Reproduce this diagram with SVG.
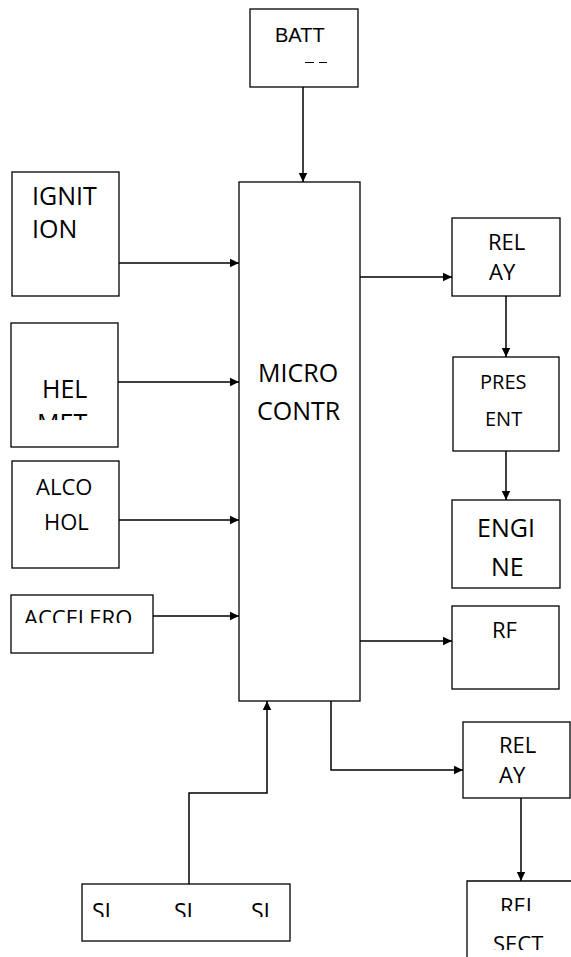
<svg xmlns="http://www.w3.org/2000/svg" width="571" height="957" viewBox="0 0 571 957">
<style>
.box{fill:#fff;stroke:#000;stroke-width:1.3}
.t{font-family:"Open Sans","Noto Sans",sans-serif;fill:#000}
.l{font-size:25px}
.s{font-size:22px}
.c{fill:none;stroke:#000;stroke-width:1.5}
</style>
<defs>
<marker id="ah" markerWidth="10" markerHeight="10" refX="9" refY="5" orient="auto" markerUnits="userSpaceOnUse">
<path d="M0,0.8 L9,5 L0,9.2 Z" fill="#000"/>
</marker>
<clipPath id="cHel"><rect x="0" y="300" width="200" height="120"/></clipPath>
<clipPath id="cAcc"><rect x="0" y="590" width="200" height="33"/></clipPath>
<clipPath id="cSi"><rect x="60" y="880" width="240" height="37"/></clipPath>
<clipPath id="cRel"><rect x="460" y="880" width="120" height="31"/></clipPath>
<clipPath id="cSect"><rect x="460" y="920" width="120" height="30"/></clipPath>
</defs>
<rect width="571" height="957" fill="#fff"/>
<g id="batt">
<rect class="box" x="250" y="9" width="108" height="78"/>
<text class="t" x="275" y="42" style="font-family:'Liberation Sans',Arial,sans-serif;font-size:20px">BATT</text>
<path d="M305 62.5H314M319 62.5H327" stroke="#000" stroke-width="1"/>
</g>
<g id="micro">
<rect class="box" x="239" y="182" width="121" height="519"/>
<text class="t l" x="258" y="382">MICRO</text>
<text class="t l" x="257" y="420">CONTR</text>
</g>
<g id="ignition">
<rect class="box" x="12" y="172" width="107" height="124"/>
<text class="t l" x="32" y="205">IGNIT</text>
<text class="t l" x="32" y="238">ION</text>
</g>
<g id="helmet">
<rect class="box" x="11" y="323" width="107" height="124"/>
<text class="t l" x="42" y="398">HEL</text>
<text class="t l" x="37" y="432" clip-path="url(#cHel)">MET</text>
</g>
<g id="alcohol">
<rect class="box" x="12" y="461" width="107" height="107"/>
<text class="t s" x="36" y="495">ALCO</text>
<text class="t s" x="44" y="530">HOL</text>
</g>
<g id="accelero">
<rect class="box" x="11" y="595" width="142" height="58"/>
<text class="t" x="24" y="626" style="font-size:22px" clip-path="url(#cAcc)">ACCELERO</text>
</g>
<g id="relay1">
<rect class="box" x="452" y="218" width="108" height="78"/>
<text class="t s" x="488" y="250">REL</text>
<text class="t s" x="489" y="280">AY</text>
</g>
<g id="present">
<rect class="box" x="453" y="357" width="106" height="94"/>
<text class="t" x="480" y="389" style="font-size:20px">PRES</text>
<text class="t" x="485" y="426" style="font-size:20px">ENT</text>
</g>
<g id="engine">
<rect class="box" x="452" y="500" width="108" height="88"/>
<text class="t l" x="477" y="537">ENGI</text>
<text class="t l" x="491" y="576">NE</text>
</g>
<g id="rf">
<rect class="box" x="452" y="606" width="107" height="83"/>
<text class="t s" x="492" y="638">RF</text>
</g>
<g id="relay2">
<rect class="box" x="463" y="722" width="107" height="76"/>
<text class="t s" x="499" y="753">REL</text>
<text class="t s" x="499" y="783">AY</text>
</g>
<g id="select">
<path class="box" d="M467 957V881H572"/>
<text class="t" x="500" y="914" style="font-size:22px" clip-path="url(#cRel)">REL</text>
<text class="t" x="493" y="952" style="font-size:22px" clip-path="url(#cSect)">SECT</text>
</g>
<g id="switches">
<rect class="box" x="82" y="884" width="208" height="57"/>
<text class="t" x="92" y="920" style="font-size:23px" clip-path="url(#cSi)">SI</text>
<text class="t" x="174" y="920" style="font-size:23px" clip-path="url(#cSi)">SI</text>
<text class="t" x="251" y="920" style="font-size:23px" clip-path="url(#cSi)">SI</text>
</g>
<g id="connectors">
<path class="c" d="M303 87V182" marker-end="url(#ah)"/>
<path class="c" d="M119 263H239" marker-end="url(#ah)"/>
<path class="c" d="M118 382H239" marker-end="url(#ah)"/>
<path class="c" d="M119 520H239" marker-end="url(#ah)"/>
<path class="c" d="M153 616H239" marker-end="url(#ah)"/>
<path class="c" d="M360 277H452" marker-end="url(#ah)"/>
<path class="c" d="M506 296V357" marker-end="url(#ah)"/>
<path class="c" d="M506 451V500" marker-end="url(#ah)"/>
<path class="c" d="M360 641H452" marker-end="url(#ah)"/>
<path class="c" d="M331 701V770H463" marker-end="url(#ah)"/>
<path class="c" d="M521 798V881" marker-end="url(#ah)"/>
<path class="c" d="M189 884V793H267V701" marker-end="url(#ah)"/>
</g>
</svg>
